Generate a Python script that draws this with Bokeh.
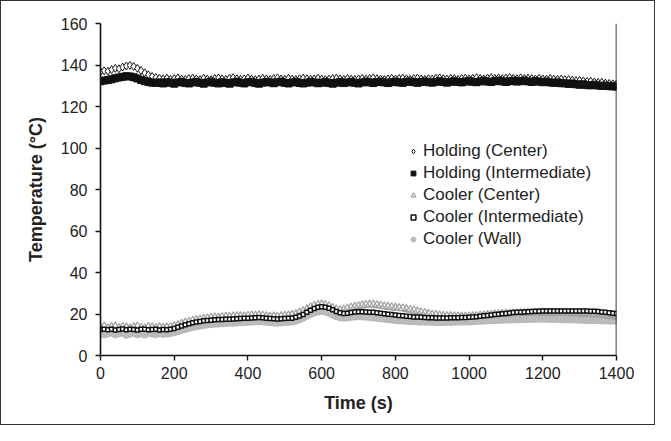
from bokeh.plotting import figure
from bokeh.models import Range1d, Span, Legend, LegendItem, FixedTicker
from bokeh.embed import file_html
from bokeh.resources import INLINE

# ---- data ----
time_s = list(range(0, 1401, 10))

holding_center = [
    136.8, 137.2, 137.0, 137.8, 138.4, 138.2, 139.0, 139.5, 139.8, 139.3, 138.4, 137.3, 136.2, 135.3, 134.5, 134.0,
    133.6, 133.3, 133.7, 133.1, 133.4, 133.8, 133.2, 133.0, 133.5, 133.7,
    133.3, 133.0, 133.6, 133.2, 132.9, 133.5, 133.8, 133.3, 133.1, 133.6,
    133.9, 133.4, 133.1, 133.3, 133.7, 133.2, 132.9, 133.2, 133.6, 133.3,
    133.0, 133.5, 133.8, 133.3, 133.1, 133.6, 133.2, 133.0, 133.4, 133.7,
    133.4, 133.1, 133.3, 133.6, 133.2, 132.9, 133.2, 133.5, 133.7, 133.3,
    133.1, 133.5, 133.2, 133.0, 133.3, 133.6, 133.2, 133.5, 133.8, 133.4,
    133.2, 133.0, 133.3, 133.6, 133.2, 133.5, 133.7, 133.3, 133.1, 133.5,
    133.7, 133.3, 133.1, 133.4, 133.2, 133.6, 133.8, 133.4, 133.2, 133.6,
    133.4, 133.1, 133.5, 133.7, 133.3, 133.6, 133.9, 133.5, 133.3, 133.7,
    133.9, 133.5, 133.8, 133.4, 133.7, 134.0, 133.6, 133.4, 133.8, 133.5,
    133.7, 133.4, 133.2, 133.6, 133.3, 133.1, 133.5, 133.2, 133.0, 133.2,
    132.9, 133.0, 132.7, 132.5, 132.6, 132.3, 132.1, 132.2, 131.8, 131.6, 131.7, 131.3, 131.1, 130.9, 130.8,
]

holding_intermediate = [
    132.2, 132.5, 132.8, 133.1, 133.6, 134.0, 134.3, 134.6, 134.5, 134.1, 133.5, 132.8, 132.2, 131.8, 131.5, 131.4,
    131.6, 131.1, 131.7, 131.5, 131.0, 131.6, 131.9, 131.3, 131.1, 131.6,
    131.9, 131.4, 131.0, 131.6, 132.0, 131.4, 131.1, 131.7, 131.3, 131.0,
    131.6, 132.0, 131.4, 131.1, 131.7, 131.9, 131.3, 131.0, 131.5, 131.9,
    131.6, 131.2, 131.7, 132.0, 131.4, 131.1, 131.6, 131.9, 131.3, 131.1,
    131.5, 131.9, 131.6, 131.2, 131.5, 131.8, 131.3, 131.0, 131.5, 131.8,
    131.3, 131.6, 131.9, 131.4, 131.1, 131.6, 132.0, 131.6, 131.3, 131.8,
    132.0, 131.6, 131.3, 131.7, 132.0, 131.6, 131.4, 131.9, 132.1, 131.7,
    131.4, 131.8, 132.1, 131.7, 131.5, 131.9, 132.2, 131.8, 131.5, 131.9,
    132.2, 131.8, 131.6, 132.0, 132.3, 131.9, 131.7, 132.1, 132.4, 132.0,
    131.8, 132.2, 132.5, 132.1, 131.8, 132.2, 132.4, 132.0, 132.2, 132.5,
    132.1, 131.8, 132.2, 132.0, 131.7, 132.0, 131.6, 131.4, 131.6, 131.2,
    131.2, 130.9, 131.1, 130.7, 130.5, 130.7, 130.3, 130.2, 130.5, 130.1, 129.9, 130.1, 129.8, 129.7, 129.6,
]

cooler_center = [
    13.4, 13.9, 13.1, 13.6, 14.0, 13.2, 13.7, 13.5, 13.0, 13.6, 13.9, 13.3, 13.1, 13.7, 13.5, 13.2, 13.6, 13.3, 13.5,
    13.7, 14.1, 14.6, 15.2, 15.8, 16.2, 16.7, 17.0,
    17.3, 17.6, 17.9, 18.1, 18.3, 18.2, 18.5, 18.7, 18.6, 18.8, 18.9,
    19.0, 18.8, 19.1, 19.3, 19.2, 19.4, 19.2, 18.9, 18.7, 18.8, 18.6, 18.9, 19.1, 19.3, 19.5,
    19.9, 20.6, 21.4, 22.3, 23.2, 23.9, 24.4, 24.6, 24.3, 23.7,
    22.9, 22.2, 21.9, 22.1, 22.6, 23.1, 23.5, 23.8,
    24.1, 24.4, 24.6, 24.5, 24.2, 24.0, 23.7, 23.5, 23.2, 23.0,
    22.8, 22.7, 22.3, 22.0, 21.6, 21.2, 20.8, 20.4, 20.0, 19.7, 19.5, 19.3, 19.1, 19.0, 18.9, 18.8, 18.8, 18.7, 18.7, 18.8,
    18.9, 19.0, 19.2, 19.3, 19.5, 19.6, 19.8, 19.9, 20.0, 20.1, 20.2, 20.3, 20.3, 20.4, 20.4, 20.5, 20.5, 20.5, 20.6, 20.6,
    20.5, 20.6, 20.5, 20.4, 20.5, 20.4, 20.3, 20.3, 20.2, 20.2, 20.1, 20.0, 19.9, 19.8, 19.7, 19.5, 19.3, 19.1, 18.9, 18.7,
]

cooler_intermediate = [
    12.5, 12.7, 12.4, 12.6, 12.3, 12.5, 12.8, 12.4, 12.6, 12.5, 12.3, 12.6, 12.7, 12.4, 12.5, 12.6, 12.3, 12.5, 12.4,
    12.6, 13.0, 13.6, 14.2, 14.8, 15.3, 15.8, 16.1,
    16.4, 16.7, 16.9, 17.0, 17.2, 17.3, 17.4, 17.5, 17.5, 17.6, 17.7,
    17.8, 17.9, 18.0, 18.1, 18.2, 18.3, 18.2, 18.0, 17.8, 17.7, 17.6, 17.7, 17.8, 17.9, 18.0,
    18.4, 19.0, 19.8, 20.8, 21.8, 22.6, 23.2, 23.5, 23.3, 22.8,
    22.0, 21.2, 20.6, 20.3, 20.4, 20.7, 21.0, 21.1,
    21.1, 21.0, 20.9, 20.8, 20.6, 20.4, 20.1, 19.9, 19.7, 19.5,
    19.3, 19.1, 18.9, 18.8, 18.6, 18.5, 18.4, 18.3, 18.2, 18.2, 18.1, 18.1, 18.1, 18.1, 18.2, 18.2, 18.2, 18.3, 18.3, 18.4,
    18.5, 18.7, 18.9, 19.1, 19.3, 19.5, 19.7, 19.9, 20.1, 20.3, 20.5, 20.7, 20.8, 20.9, 21.0, 21.1, 21.2, 21.3, 21.3, 21.4,
    21.4, 21.5, 21.5, 21.5, 21.5, 21.5, 21.4, 21.4, 21.5, 21.5, 21.4, 21.4, 21.3, 21.3, 21.2, 21.0, 20.8, 20.6, 20.4, 20.2,
]

cooler_wall = [
    11.4, 10.6, 11.1, 11.6, 10.7, 11.2, 11.5, 10.5, 11.0, 11.4, 10.7, 11.2, 10.6, 11.5, 11.0, 10.7, 11.3, 10.9, 11.1,
    11.3, 11.7, 12.2, 12.8, 13.3, 13.8, 14.2, 14.6,
    14.9, 15.2, 15.4, 15.6, 15.8, 15.9, 16.0, 16.2, 16.3, 16.2, 16.4,
    16.5, 16.6, 16.7, 16.8, 16.9, 17.0, 16.9, 16.7, 16.5, 16.4, 16.3, 16.4, 16.6, 16.7, 16.9,
    17.3, 17.9, 18.7, 19.6, 20.5, 21.2, 21.7, 21.9, 21.6, 21.0,
    20.2, 19.4, 18.9, 18.7, 18.8, 19.1, 19.3, 19.4,
    19.3, 19.2, 19.0, 18.8, 18.6, 18.4, 18.2, 18.0, 17.8, 17.6,
    17.5, 17.3, 17.2, 17.1, 17.0, 16.9, 16.8, 16.8, 16.7, 16.7, 16.6, 16.6, 16.6, 16.7, 16.7, 16.7, 16.8, 16.8, 16.9, 16.9,
    17.0, 17.1, 17.2, 17.3, 17.4, 17.5, 17.5, 17.6, 17.7, 17.8, 17.8, 17.9, 17.9, 18.0, 18.0, 18.1, 18.1, 18.1, 18.2, 18.2,
    18.2, 18.1, 18.1, 18.0, 18.0, 17.9, 17.9, 17.8, 17.8, 17.7, 17.7, 17.6, 17.6, 17.5, 17.5, 17.4, 17.4, 17.3, 17.3, 17.2,
]

x_ticks = [0, 200, 400, 600, 800, 1000, 1200, 1400]
y_ticks = [0, 20, 40, 60, 80, 100, 120, 140, 160]

FONT = "Liberation Sans"

p = figure(
    width=655, height=425,
    output_backend="svg", toolbar_location=None,
    x_range=Range1d(0, 1400), y_range=Range1d(0, 160),
    min_border_left=99, min_border_right=40, min_border_top=22, min_border_bottom=71,
    x_axis_label="Time (s)", y_axis_label="Temperature (°C)",
)
p.styles = {"border": "1px solid #333333"}
p.grid.grid_line_color = None
p.outline_line_color = None
p.background_fill_color = "white"
p.border_fill_color = "white"

p.xaxis.ticker = FixedTicker(ticks=x_ticks)
p.yaxis.ticker = FixedTicker(ticks=y_ticks)
for ax in (p.xaxis[0], p.yaxis[0]):
    ax.axis_line_color = "#111111"
    ax.axis_line_width = 1.6
    ax.major_tick_line_color = "#111111"
    ax.major_tick_line_width = 1.4
    ax.major_tick_in = 0
    ax.major_tick_out = 5
    ax.minor_tick_line_color = None
    ax.major_label_text_font = FONT
    ax.major_label_text_font_size = "16px"
    ax.major_label_text_color = "#222222"
    ax.axis_label_text_font = FONT
    ax.axis_label_text_font_size = "18px"
    ax.axis_label_text_font_style = "bold"
    ax.axis_label_text_color = "#222222"
p.xaxis.major_label_standoff = 6
p.xaxis.axis_label_standoff = 11
p.yaxis.major_label_standoff = 8
p.yaxis.axis_label_standoff = 12

p.add_layout(Span(location=1400, dimension="height", line_color="#111111", line_width=1.6))

r_cw = p.scatter(time_s, cooler_wall, marker="circle", size=9, fill_color="#bdbdbd", line_color="#b5b5b5", line_width=1)
r_cc = p.scatter(time_s, cooler_center, marker="triangle", size=8, fill_color="white", fill_alpha=0.0, line_color="#a0a0a0", line_width=1.2)
r_ci = p.scatter(time_s, cooler_intermediate, marker="square", size=4, fill_color="white", line_color="#111111", line_width=1.5)
r_hc = p.scatter(time_s, holding_center, marker="diamond", size=8, fill_color="white", line_color="#1a1a1a", line_width=1)
r_hi = p.scatter(time_s, holding_intermediate, marker="square", size=7, fill_color="#111111", line_color="#111111", line_width=1)

legend = Legend(
    items=[
        LegendItem(label="Holding (Center)", renderers=[r_hc]),
        LegendItem(label="Holding (Intermediate)", renderers=[r_hi]),
        LegendItem(label="Cooler (Center)", renderers=[r_cc]),
        LegendItem(label="Cooler (Intermediate)", renderers=[r_ci]),
        LegendItem(label="Cooler (Wall)", renderers=[r_cw]),
    ],
    location=(307, 106),
    border_line_color=None,
    background_fill_alpha=0.0,
    padding=0, margin=0,
    spacing=2, label_height=20, glyph_height=20, glyph_width=12,
    label_standoff=4,
    label_text_font=FONT, label_text_font_size="17px", label_text_color="#222222",
)
p.add_layout(legend)

open("out.html", "w").write(file_html(p, INLINE))
